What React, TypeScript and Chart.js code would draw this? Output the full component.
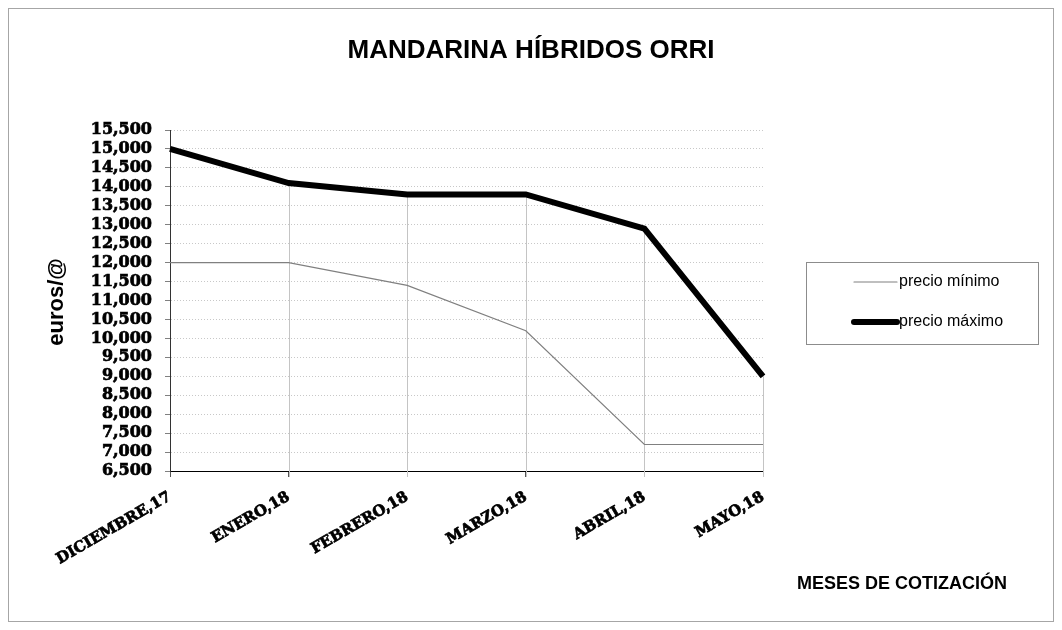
import React, { useEffect, useRef } from "react";
import { Chart, registerables } from "chart.js";

Chart.register(...registerables);

const categories = ["DICIEMBRE,17", "ENERO,18", "FEBRERO,18", "MARZO,18", "ABRIL,18", "MAYO,18"];
const precioMinimo = [12.0, 12.0, 11.4, 10.2, 7.2, 7.2];
const precioMaximo = [15.0, 14.1, 13.8, 13.8, 12.9, 9.0];
const seriesLabels = ["precio mínimo", "precio máximo"];
const yMin = 6.5;
const yMax = 15.5;
const yStep = 0.5;
const chartTitle = "MANDARINA HÍBRIDOS ORRI";
const yTitle = "euros/@";
const xTitle = "MESES DE COTIZACIÓN";

const W = 1046;
const H = 614;

const decorPlugin = {
  id: "decor",
  beforeDraw(chart: any) {
    const ctx = chart.ctx;
    ctx.save();
    ctx.fillStyle = "#ffffff";
    ctx.fillRect(0, 0, chart.width, chart.height);
    ctx.strokeStyle = "#a6a6a6";
    ctx.lineWidth = 1;
    ctx.strokeRect(0.5, 0.5, chart.width - 1, chart.height - 1);
    ctx.restore();
  },
  beforeDatasetsDraw(chart: any) {
    // drop lines from the highest series to the category axis
    const ctx = chart.ctx;
    const x = chart.scales.x;
    const y = chart.scales.y;
    const area = chart.chartArea;
    ctx.save();
    ctx.strokeStyle = "#c4c4c4";
    ctx.lineWidth = 1;
    for (let i = 1; i < categories.length; i++) {
      const px = Math.round(x.getPixelForValue(i)) + 0.5;
      const top = y.getPixelForValue(Math.max(precioMinimo[i], precioMaximo[i]));
      ctx.beginPath();
      ctx.moveTo(px, top);
      ctx.lineTo(px, area.bottom + 6);
      ctx.stroke();
    }
    ctx.restore();
  },
  afterDraw(chart: any) {
    const ctx = chart.ctx;
    ctx.save();
    ctx.fillStyle = "#000";
    // title
    ctx.font = "bold 26px 'Liberation Sans', Arial, sans-serif";
    ctx.textAlign = "center";
    ctx.textBaseline = "middle";
    ctx.fillText(chartTitle, 523, 43);
    // y title
    ctx.save();
    ctx.translate(49, 294);
    ctx.rotate(-Math.PI / 2);
    ctx.font = "bold 22px 'Liberation Sans', Arial, sans-serif";
    ctx.fillText(yTitle, 0, 0);
    ctx.restore();
    // x title
    ctx.font = "bold 18px 'Liberation Sans', Arial, sans-serif";
    ctx.textAlign = "left";
    ctx.fillText(xTitle, 789, 576);
    // legend
    const bx = 798.5, by = 254.5, bw = 232, bh = 82;
    ctx.strokeStyle = "#8c8c8c";
    ctx.lineWidth = 1;
    ctx.strokeRect(bx, by, bw, bh);
    const ds = chart.data.datasets;
    const rows = [274, 314];
    ctx.font = "16px 'Liberation Sans', Arial, sans-serif";
    for (let i = 0; i < ds.length; i++) {
      ctx.strokeStyle = ds[i].borderColor;
      ctx.lineWidth = ds[i].borderWidth;
      ctx.lineCap = "round";
      ctx.beginPath();
      ctx.moveTo(846, rows[i]);
      ctx.lineTo(889, rows[i]);
      ctx.stroke();
      ctx.fillStyle = "#000";
      ctx.textAlign = "left";
      ctx.fillText(ds[i].label, 891, rows[i]);
    }
    ctx.restore();
  },
};

export default function App() {
  const ref = useRef<HTMLCanvasElement | null>(null);
  useEffect(() => {
    if (!ref.current) return;
    const chart = new Chart(ref.current, {
      type: "line",
      data: {
        labels: categories,
        datasets: [
          {
            label: seriesLabels[0],
            data: precioMinimo,
            borderColor: "#808080",
            borderWidth: 1.2,
            pointRadius: 0,
            tension: 0,
          },
          {
            label: seriesLabels[1],
            data: precioMaximo,
            borderColor: "#000000",
            borderWidth: 6,
            pointRadius: 0,
            tension: 0,
          },
        ],
      },
      options: {
        responsive: false,
        animation: false,
        layout: { padding: { left: 0, top: 122, right: 291, bottom: 0 } },
        plugins: {
          legend: { display: false },
          title: { display: false },
          tooltip: { enabled: false },
        },
        scales: {
          x: {
            type: "category",
            offset: false,
            afterFit: (s: any) => {
              s.height = 151;
            },
            grid: {
              drawOnChartArea: false,
              drawTicks: true,
              tickLength: 6,
              tickColor: "#555",
            },
            border: { color: "#000", width: 1 },
            ticks: {
              color: "#000",
              minRotation: 30,
              maxRotation: 30,
              autoSkip: false,
              padding: 11,
              textStrokeColor: "#000",
              textStrokeWidth: 0.7,
              font: { family: "'DejaVu Serif', serif", weight: "bold", size: 15 },
            },
          },
          y: {
            min: yMin,
            max: yMax,
            afterFit: (s: any) => {
              s.width = 162;
            },
            grid: {
              color: "#c8c8c8",
              lineWidth: 1,
              tickLength: 5,
              tickColor: "#808080",
              tickBorderDash: [],
            },
            border: { color: "#333", width: 1, dash: [1, 2] },
            ticks: {
              stepSize: yStep,
              autoSkip: false,
              color: "#000",
              padding: 13,
              textStrokeColor: "#000",
              textStrokeWidth: 0.7,
              font: { family: "'DejaVu Serif', serif", weight: "bold", size: 16 },
              callback: (v: any) => Number(v).toFixed(3).replace(".", ","),
            },
          },
        },
      },
      plugins: [decorPlugin],
    });
    return () => chart.destroy();
  }, []);
  return (
    <div style={{ width: W, height: H }}>
      <canvas ref={ref} width={W} height={H} style={{ display: "block", width: W, height: H }} />
    </div>
  );
}
